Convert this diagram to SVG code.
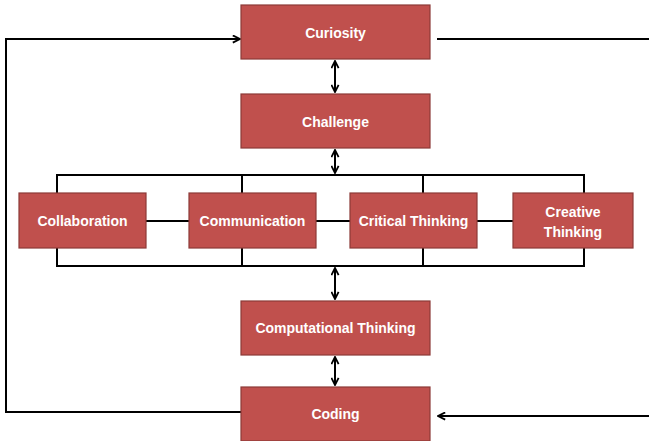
<svg xmlns="http://www.w3.org/2000/svg" width="649" height="441" viewBox="0 0 649 441">
<defs>
<marker id="ah" viewBox="0 0 10 10" refX="9" refY="5" markerWidth="4.5" markerHeight="4.5" orient="auto-start-reverse" markerUnits="strokeWidth">
<path d="M1,1 L9,5 L1,9" fill="none" stroke="#000" stroke-width="2" stroke-linejoin="miter"/>
</marker>
<style>
.box{fill:#C0504D;stroke:#8C3A38;stroke-width:1.2}
.lbl{font-family:"Liberation Sans","Open Sans",Arial,sans-serif;font-weight:bold;font-size:14px;fill:#fff;text-anchor:middle;dominant-baseline:central}
.ln{fill:none;stroke:#000;stroke-width:2}
.arr{fill:none;stroke:#000;stroke-width:2;marker-end:url(#ah)}
.darr{fill:none;stroke:#000;stroke-width:2;marker-start:url(#ah);marker-end:url(#ah)}
</style>
</defs>
<rect width="649" height="441" fill="#fff"/>
<g id="connectors">
<polyline class="arr" points="241,412 6,412 6,39 240,39"/>
<line class="ln" x1="437" y1="39" x2="649" y2="39"/>
<line class="arr" x1="649" y1="416" x2="438" y2="416"/>
<line class="darr" x1="335" y1="61" x2="335" y2="92"/>
<line class="darr" x1="335" y1="150" x2="335" y2="173"/>
<polyline class="ln" points="57,193 57,175 584,175 584,193"/>
<line class="ln" x1="242" y1="175" x2="242" y2="193"/>
<line class="ln" x1="423" y1="175" x2="423" y2="193"/>
<polyline class="ln" points="57,248 57,266 584,266 584,248"/>
<line class="ln" x1="242" y1="266" x2="242" y2="248"/>
<line class="ln" x1="423" y1="266" x2="423" y2="248"/>
<line class="ln" x1="146" y1="221" x2="189" y2="221"/>
<line class="ln" x1="316" y1="221" x2="350" y2="221"/>
<line class="ln" x1="477" y1="221" x2="513" y2="221"/>
<line class="darr" x1="335" y1="268" x2="335" y2="299"/>
<line class="darr" x1="335" y1="357" x2="335" y2="385"/>
</g>
<g id="curiosity"><rect class="box" x="241" y="5" width="189" height="54"/><text class="lbl" x="335.5" y="33">Curiosity</text></g>
<g id="challenge"><rect class="box" x="241" y="94" width="189" height="54"/><text class="lbl" x="335.5" y="122">Challenge</text></g>
<g id="collaboration"><rect class="box" x="19" y="193" width="127" height="55"/><text class="lbl" x="82.5" y="221">Collaboration</text></g>
<g id="communication"><rect class="box" x="189" y="193" width="127" height="55"/><text class="lbl" x="252.5" y="221">Communication</text></g>
<g id="critical-thinking"><rect class="box" x="350" y="193" width="127" height="55"/><text class="lbl" x="413.5" y="221">Critical Thinking</text></g>
<g id="creative-thinking"><rect class="box" x="513" y="193" width="120" height="55"/><text class="lbl" x="573" y="212">Creative</text><text class="lbl" x="573" y="232">Thinking</text></g>
<g id="computational-thinking"><rect class="box" x="241" y="301" width="189" height="54"/><text class="lbl" x="335.5" y="328">Computational Thinking</text></g>
<g id="coding"><rect class="box" x="241" y="387" width="189" height="54"/><text class="lbl" x="335.5" y="414">Coding</text></g>
</svg>
